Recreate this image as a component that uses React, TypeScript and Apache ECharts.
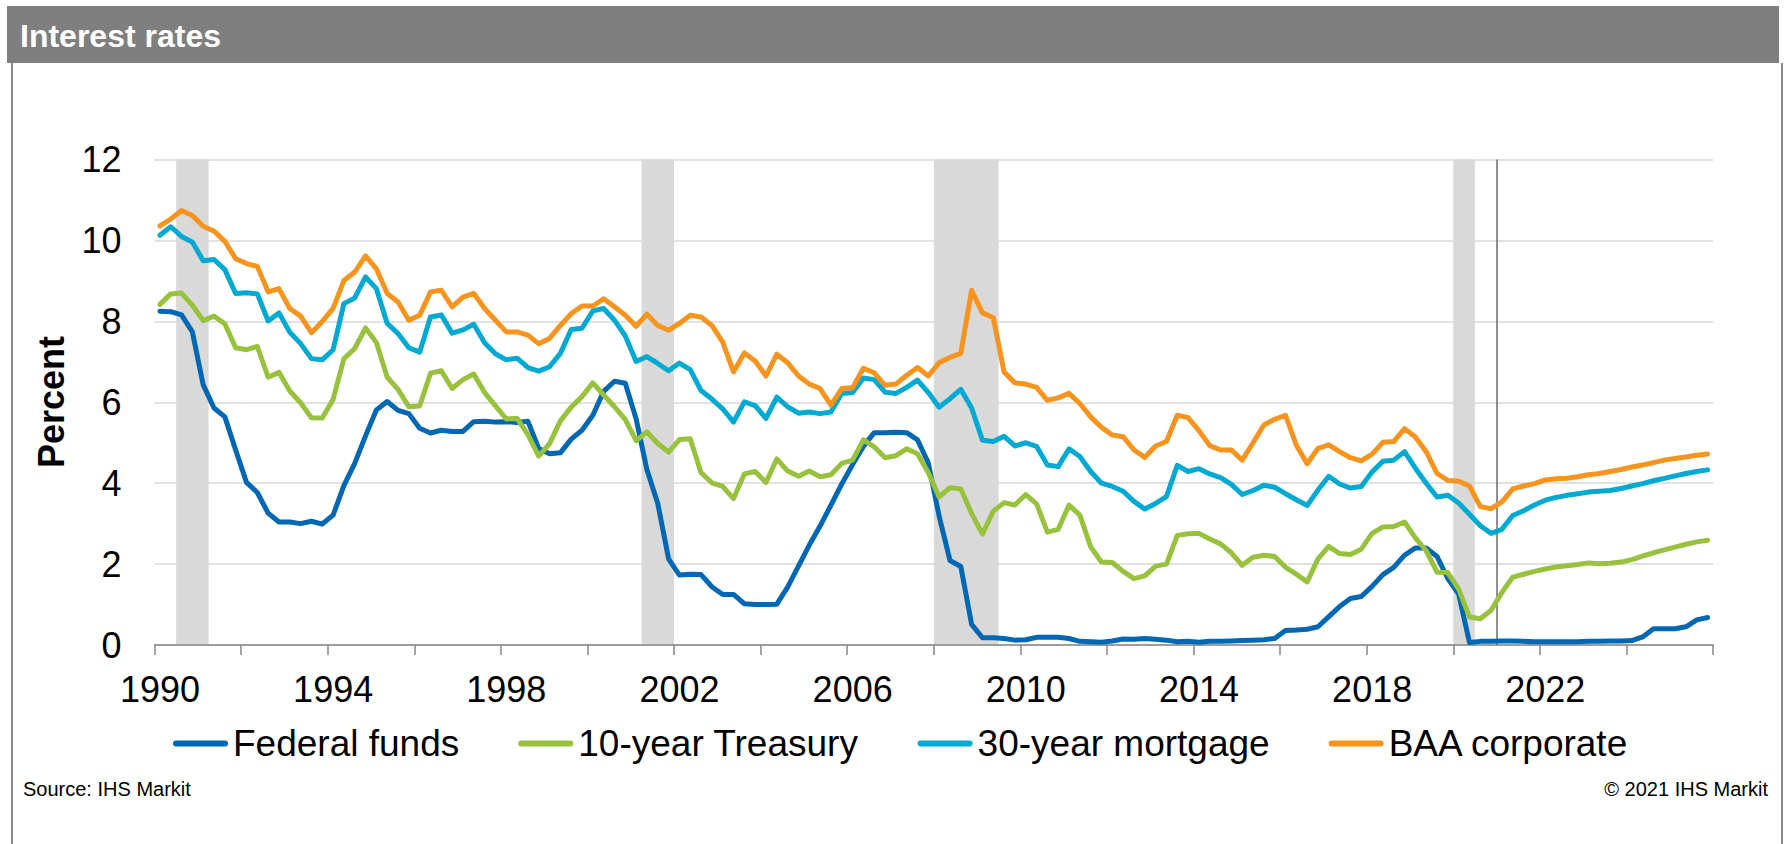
import React, { useEffect, useRef } from "react";
import * as echarts from "echarts";

// ---------- DATA ----------
const years: number[] = [
  1990, 1991, 1992, 1993, 1994, 1995, 1996, 1997, 1998, 1999, 2000, 2001,
  2002, 2003, 2004, 2005, 2006, 2007, 2008, 2009, 2010, 2011, 2012, 2013,
  2014, 2015, 2016, 2017, 2018, 2019, 2020, 2021, 2022, 2023, 2024, 2025,
];
const quarters: string[] = years.flatMap((y) => ["Q1", "Q2", "Q3", "Q4"].map((q) => `${y}${q}`));

const fedFunds: number[] = [
  8.25, 8.24, 8.16, 7.74, 6.43, 5.86, 5.64, 4.82, 4.02, 3.77, 3.26, 3.04,
  3.04, 3.0, 3.06, 2.99, 3.21, 3.94, 4.49, 5.17, 5.81, 6.02, 5.8, 5.72,
  5.36, 5.24, 5.31, 5.28, 5.28, 5.52, 5.53, 5.51, 5.52, 5.5, 5.53, 4.86,
  4.73, 4.75, 5.09, 5.31, 5.68, 6.27, 6.52, 6.47, 5.59, 4.33, 3.5, 2.13,
  1.73, 1.75, 1.74, 1.44, 1.25, 1.25, 1.02, 1.0, 1.0, 1.01, 1.43, 1.95,
  2.47, 2.94, 3.46, 3.98, 4.46, 4.91, 5.25, 5.25, 5.26, 5.25, 5.07, 4.5,
  3.18, 2.09, 1.94, 0.51, 0.18, 0.18, 0.16, 0.12, 0.13, 0.19, 0.19, 0.19,
  0.16, 0.09, 0.08, 0.07, 0.1, 0.15, 0.14, 0.16, 0.14, 0.12, 0.08, 0.09,
  0.07, 0.09, 0.09, 0.1, 0.11, 0.12, 0.13, 0.16, 0.36, 0.37, 0.39, 0.45,
  0.7, 0.95, 1.15, 1.2, 1.45, 1.74, 1.92, 2.22, 2.4, 2.4, 2.19, 1.64,
  1.26, 0.06, 0.09, 0.09, 0.1, 0.1, 0.09, 0.08, 0.08, 0.08, 0.08, 0.08,
  0.09, 0.09, 0.1, 0.1, 0.11, 0.2, 0.4, 0.4, 0.4, 0.45, 0.62, 0.68,
];

const treasury10: number[] = [
  8.42, 8.68, 8.7, 8.4, 8.02, 8.13, 7.94, 7.35, 7.3, 7.38, 6.62, 6.74,
  6.28, 5.99, 5.62, 5.61, 6.07, 7.08, 7.33, 7.84, 7.48, 6.62, 6.32, 5.89,
  5.91, 6.72, 6.78, 6.34, 6.56, 6.7, 6.24, 5.91, 5.59, 5.6, 5.2, 4.67,
  4.98, 5.54, 5.88, 6.14, 6.48, 6.18, 5.89, 5.57, 5.05, 5.27, 4.98, 4.77,
  5.08, 5.1, 4.26, 4.01, 3.92, 3.62, 4.23, 4.29, 4.02, 4.6, 4.3, 4.17,
  4.3, 4.16, 4.21, 4.49, 4.57, 5.07, 4.9, 4.63, 4.68, 4.85, 4.73, 4.26,
  3.66, 3.89, 3.86, 3.25, 2.74, 3.31, 3.52, 3.46, 3.72, 3.49, 2.79, 2.86,
  3.46, 3.21, 2.43, 2.05, 2.04, 1.82, 1.64, 1.71, 1.95, 2.0, 2.71, 2.75,
  2.76, 2.62, 2.5, 2.28, 1.97, 2.17, 2.22, 2.19, 1.92, 1.75, 1.56, 2.13,
  2.44, 2.26, 2.24, 2.37, 2.76, 2.92, 2.93, 3.04, 2.65, 2.33, 1.8, 1.79,
  1.38, 0.69, 0.65, 0.86, 1.3, 1.68, 1.75, 1.82, 1.88, 1.93, 1.96, 1.99,
  2.03, 2.01, 2.02, 2.05, 2.11, 2.2, 2.28, 2.35, 2.42, 2.49, 2.55, 2.59,
];

const mortgage30: number[] = [
  10.13, 10.34, 10.1, 9.96, 9.5, 9.53, 9.28, 8.69, 8.71, 8.68, 8.01, 8.21,
  7.73, 7.45, 7.08, 7.05, 7.3, 8.44, 8.58, 9.1, 8.81, 7.95, 7.7, 7.35,
  7.24, 8.11, 8.16, 7.71, 7.79, 7.93, 7.47, 7.2, 7.05, 7.09, 6.86, 6.77,
  6.88, 7.21, 7.8, 7.83, 8.26, 8.32, 8.03, 7.64, 7.01, 7.13, 6.96, 6.78,
  6.97, 6.81, 6.29, 6.08, 5.84, 5.51, 6.01, 5.92, 5.6, 6.13, 5.89, 5.73,
  5.76, 5.72, 5.76, 6.22, 6.24, 6.6, 6.56, 6.25, 6.22, 6.37, 6.55, 6.24,
  5.88, 6.09, 6.32, 5.86, 5.06, 5.03, 5.16, 4.92, 5.0, 4.91, 4.45, 4.41,
  4.85, 4.66, 4.29, 4.0, 3.92, 3.8, 3.55, 3.36, 3.5, 3.67, 4.44, 4.29,
  4.36, 4.23, 4.14, 3.97, 3.72, 3.82, 3.95, 3.9, 3.74, 3.59, 3.45, 3.83,
  4.17, 3.98, 3.88, 3.92, 4.28, 4.54, 4.57, 4.78, 4.37, 4.0, 3.66, 3.7,
  3.51, 3.23, 2.95, 2.76, 2.86, 3.2, 3.32, 3.46, 3.58, 3.65, 3.7, 3.74,
  3.78, 3.8, 3.82, 3.87, 3.93, 3.99, 4.06, 4.12, 4.18, 4.24, 4.29, 4.33,
];

const baaCorporate: number[] = [
  10.36, 10.53, 10.74, 10.62, 10.35, 10.23, 9.98, 9.55, 9.43, 9.36, 8.73, 8.81,
  8.32, 8.13, 7.72, 8.0, 8.32, 9.01, 9.22, 9.62, 9.3, 8.69, 8.48, 8.03,
  8.15, 8.73, 8.77, 8.36, 8.6, 8.69, 8.32, 8.03, 7.74, 7.74, 7.66, 7.45,
  7.58, 7.9, 8.19, 8.38, 8.38, 8.56, 8.36, 8.15, 7.88, 8.18, 7.9, 7.78,
  7.95, 8.15, 8.11, 7.9, 7.49, 6.75, 7.22, 7.02, 6.65, 7.19, 6.98, 6.65,
  6.45, 6.34, 5.93, 6.34, 6.36, 6.84, 6.73, 6.42, 6.45, 6.67, 6.86, 6.65,
  6.98, 7.11, 7.21, 8.77, 8.21, 8.09, 6.75, 6.48, 6.45, 6.37, 6.05, 6.11,
  6.22, 5.97, 5.64, 5.38, 5.19, 5.15, 4.82, 4.64, 4.92, 5.03, 5.68, 5.62,
  5.3, 4.93, 4.82, 4.82, 4.57, 5.0, 5.44, 5.58, 5.68, 4.94, 4.48, 4.86,
  4.95, 4.78, 4.63, 4.55, 4.72, 5.01, 5.03, 5.35, 5.14, 4.78, 4.24, 4.07,
  4.05, 3.93, 3.42, 3.37, 3.54, 3.86, 3.93, 3.99, 4.08, 4.11, 4.12, 4.16,
  4.21, 4.24, 4.29, 4.34, 4.4, 4.45, 4.51, 4.57, 4.61, 4.65, 4.69, 4.72,
];

const seriesNames: string[] = ["Federal funds", "10-year Treasury", "30-year mortgage", "BAA corporate"];
const seriesColors: string[] = ["#0067b4", "#98c13d", "#00a9d1", "#f7941d"];

const recessions: [string, string][] = [
  ["1990Q3", "1991Q1"],
  ["2001Q2", "2001Q4"],
  ["2008Q1", "2009Q2"],
  ["2020Q1", "2020Q2"],
];
const forecastStart = "2021Q1";

const xTickLabels: string[] = ["1990", "1994", "1998", "2002", "2006", "2010", "2014", "2018", "2022"];
const xMin = 1990;
const xMax = 2026;
const xStep = 2;
const yMin = 0;
const yMax = 12;
const yStep = 2;

// quarter label -> position on the time axis (in years)
const qStart = (q: string) => Number(q.slice(0, 4)) + (Number(q.slice(5)) - 1) / 4;
const qEnd = (q: string) => qStart(q) + 0.25;
const qMid = (q: string) => qStart(q) + 0.125;

const FONT = "'Liberation Sans', Arial, Helvetica, sans-serif";

export default function App() {
  const ref = useRef<HTMLDivElement>(null);

  useEffect(() => {
    if (!ref.current) return;
    const chart = echarts.init(ref.current, undefined, { renderer: "svg" });

    const values = [fedFunds, treasury10, mortgage30, baaCorporate];
    const lineSeries = values.map((vals, si) => ({
      name: seriesNames[si],
      type: "line",
      data: vals.map((v, i) => [qMid(quarters[i]), v]),
      symbol: "none",
      z: 5,
      color: seriesColors[si],
      lineStyle: { width: 5, color: seriesColors[si], join: "round", cap: "round" },
      silent: true,
    }));

    const option: any = {
      animation: false,
      backgroundColor: "#ffffff",
      textStyle: { fontFamily: FONT },
      grid: { left: 154.5, right: 74, top: 159.6, bottom: 199, containLabel: false },
      xAxis: {
        type: "value",
        min: xMin,
        max: xMax,
        interval: xStep,
        z: 3,
        axisLine: { show: true, lineStyle: { color: "#868686", width: 1.5 } },
        axisTick: { show: true, length: 10, inside: false, lineStyle: { color: "#868686", width: 1.5 } },
        splitLine: { show: false },
        axisLabel: {
          show: true,
          margin: 26,
          fontSize: 36,
          color: "#000000",
          fontFamily: FONT,
          padding: [0, 0, 0, 11],
          formatter: (v: number) => (xTickLabels.includes(String(v)) ? String(v) : ""),
        },
      },
      yAxis: {
        type: "value",
        min: yMin,
        max: yMax,
        interval: yStep,
        axisLine: { show: false },
        axisTick: { show: false },
        splitLine: { show: true, lineStyle: { color: "#d9d9d9", width: 1.5 } },
        axisLabel: { margin: 33, fontSize: 36, color: "#000000", fontFamily: FONT },
      },
      legend: {
        show: true,
        data: seriesNames,
        left: 173,
        top: 725,
        padding: 0,
        orient: "horizontal",
        itemWidth: 55,
        itemHeight: 6,
        itemGap: 59,
        icon: "path://M3,0 L52,0 A3,3 0 0 1 52,6 L3,6 A3,3 0 0 1 3,0 Z",
        itemStyle: { borderWidth: 0 },
        textStyle: { fontSize: 37, color: "#000000", fontFamily: FONT },
        selectedMode: false,
      },
      series: [
        {
          name: "__bands",
          type: "line",
          data: [],
          z: 2,
          silent: true,
          markArea: {
            silent: true,
            itemStyle: { color: "#d9d9d9" },
            label: { show: false },
            data: recessions.map(([a, b]) => [{ xAxis: qStart(a) }, { xAxis: qEnd(b) }]),
          },
          markLine: {
            silent: true,
            symbol: ["none", "none"],
            label: { show: false },
            lineStyle: { color: "#6b6b6b", width: 1.5, type: "solid" },
            data: [{ xAxis: qStart(forecastStart) }],
          },
        },
        ...lineSeries,
      ],
      graphic: [
        {
          type: "rect",
          shape: { x: 7, y: 6, width: 1772, height: 57 },
          style: { fill: "#7f7f7f" },
          silent: true,
        },
        {
          type: "text",
          x: 20,
          y: 36,
          style: {
            text: "Interest rates",
            fill: "#ffffff",
            font: `bold 32px ${FONT}`,
            align: "left",
            verticalAlign: "middle",
            textAlign: "left",
            textVerticalAlign: "middle",
          },
          silent: true,
        },
        {
          type: "line",
          shape: { x1: 12, y1: 63, x2: 12, y2: 844 },
          style: { stroke: "#8a8a8a", lineWidth: 2 },
          silent: true,
        },
        {
          type: "line",
          shape: { x1: 1782, y1: 63, x2: 1782, y2: 844 },
          style: { stroke: "#8a8a8a", lineWidth: 2 },
          silent: true,
        },
        {
          type: "text",
          x: 51,
          y: 402,
          rotation: Math.PI / 2,
          style: {
            text: "Percent",
            fill: "#000000",
            font: `bold 36px ${FONT}`,
            align: "center",
            verticalAlign: "middle",
            textAlign: "center",
            textVerticalAlign: "middle",
          },
          silent: true,
        },
        {
          type: "text",
          x: 23,
          y: 789,
          style: {
            text: "Source: IHS Markit",
            fill: "#000000",
            font: `20px ${FONT}`,
            align: "left",
            verticalAlign: "middle",
            textAlign: "left",
            textVerticalAlign: "middle",
          },
          silent: true,
        },
        {
          type: "text",
          x: 1768,
          y: 789,
          style: {
            text: "© 2021 IHS Markit",
            fill: "#000000",
            font: `20px ${FONT}`,
            align: "right",
            verticalAlign: "middle",
            textAlign: "right",
            textVerticalAlign: "middle",
          },
          silent: true,
        },
      ],
    };

    chart.setOption(option);
    return () => {
      chart.dispose();
    };
  }, []);

  return (
    <div
      ref={ref}
      style={{ position: "fixed", left: 0, top: 0, width: 1787, height: 844, background: "#ffffff" }}
    />
  );
}
